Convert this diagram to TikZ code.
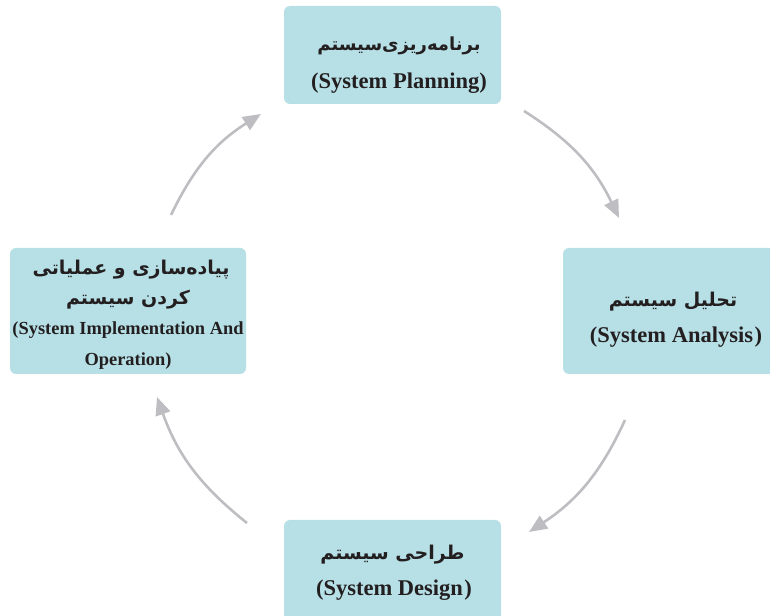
\documentclass[tikz,border=0pt]{standalone}
\usepackage{fontspec}
\setmainfont{Liberation Serif}
\newfontfamily\fa[Script=Arabic]{DejaVu Sans}
\TeXXeTstate=1
\usetikzlibrary{arrows.meta}
\definecolor{boxc}{RGB}{182,224,230}
\definecolor{arrc}{RGB}{190,190,194}
\definecolor{txt}{RGB}{35,31,32}
\begin{document}
\begin{tikzpicture}[x=1pt,y=1pt,
  box/.style={fill=boxc, rounded corners=6pt, draw=none, inner sep=0pt},
  en/.style={font=\bfseries\fontsize{22.5}{26}\selectfont, text=txt, inner sep=0pt},
  ensm/.style={font=\bfseries\fontsize{18.4}{22}\selectfont, text=txt, inner sep=0pt},
  pe/.style={font=\fa\bfseries\fontsize{19}{22}\selectfont, text=txt, inner sep=0pt},
  cyc/.style={draw=arrc, line width=2.6pt, -{Triangle[length=18pt,width=15pt]}}]
\useasboundingbox (0,0) rectangle (770,615);
% boxes
\node[box, minimum width=217pt, minimum height=98pt] (plan) at (392.5,560) {};
\node[box, minimum width=236pt, minimum height=126pt] (impl) at (128,304) {};
\node[box, minimum width=226pt, minimum height=126pt] (anal) at (676,304) {};
\node[box, minimum width=217pt, minimum height=104pt] (desg) at (392.5,43) {};
% texts
\node[pe, font=\fa\bfseries\fontsize{18}{21}\selectfont] (planfa) at (399,569) {\beginR برنامه‌ریزی‌سیستم\endR};
\node[en] (planen) at (399,532) {(System Planning)};
\node[pe] (implfa1) at (131,345) {\beginR پیاده‌سازی و عملیاتی\endR};
\node[pe] (implfa2) at (128,315) {\beginR کردن سیستم\endR};
\node[ensm] (implen1) at (128,285) {(System Implementation And};
\node[ensm] (implen2) at (128,254) {Operation)};
\node[pe] (analfa) at (673,313) {\beginR تحلیل سیستم\endR};
\node[en] (analen) at (676,278) {(System Analysis\kern1.5pt)};
\node[pe] (desgfa) at (392.5,60) {\beginR طراحی سیستم\endR};
\node[en] (desgen) at (394,25) {(System Design\kern1.5pt)};
% arrow end points
\coordinate (a1s) at (171,400); \coordinate (a1e) at (261,501);
\coordinate (a2s) at (524,504); \coordinate (a2e) at (619,397);
\coordinate (a3s) at (625,195); \coordinate (a3e) at (529,83);
\coordinate (a4s) at (247,92);  \coordinate (a4e) at (157,218);
\draw[cyc] (a1s) to[bend left=16] (a1e);
\draw[cyc] (a2s) to[bend left=16] (a2e);
\draw[cyc] (a3s) to[bend left=16] (a3e);
\draw[cyc] (a4s) to[bend left=16] (a4e);
\end{tikzpicture}
\end{document}
